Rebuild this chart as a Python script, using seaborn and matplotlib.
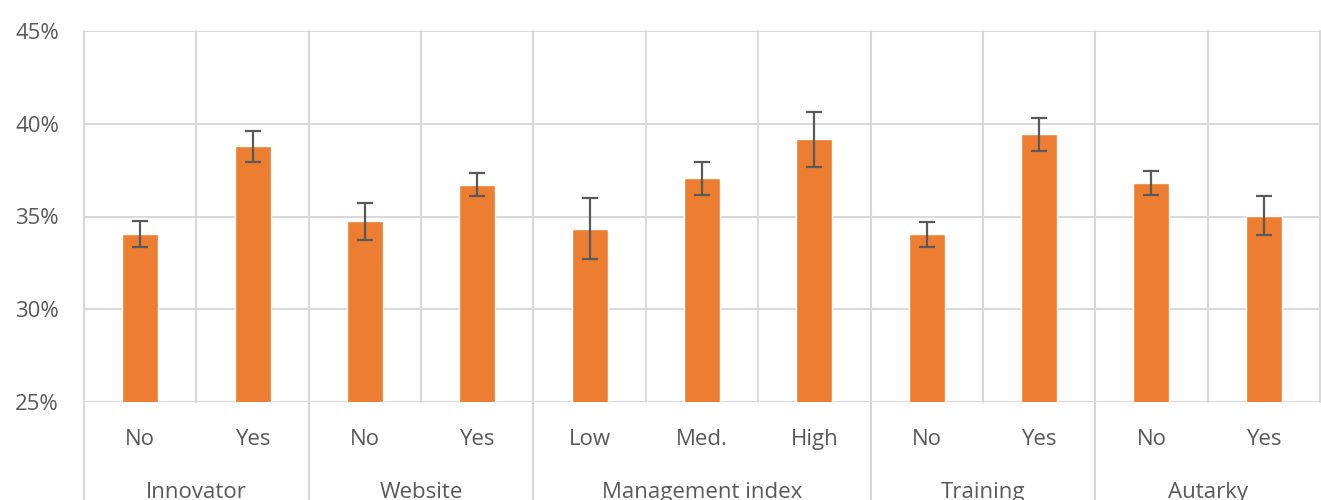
import matplotlib
matplotlib.use("Agg")
import matplotlib.pyplot as plt
import matplotlib.transforms as mtransforms
from matplotlib.ticker import PercentFormatter
import pandas as pd
import seaborn as sns

# data
groups = ["Innovator", "Innovator", "Website", "Website",
          "Management index", "Management index", "Management index",
          "Training", "Training", "Autarky", "Autarky"]
levels = ["No", "Yes", "No", "Yes", "Low", "Med.", "High", "No", "Yes", "No", "Yes"]
shares = [0.3405, 0.3878, 0.3474, 0.3672, 0.3435, 0.3706, 0.3916, 0.3404, 0.3943, 0.3681, 0.3505]
errors = [0.0072, 0.0083, 0.0100, 0.0063, 0.0165, 0.0089, 0.0148, 0.0068, 0.0089, 0.0063, 0.0103]

BAR = "#ED7D31"
GRID = "#D9D9D9"
TEXT = "#595959"

sns.set_theme(style="white")
plt.rcParams["font.family"] = ["Open Sans", "DejaVu Sans"]

df = pd.DataFrame({
    "key": [f"{g}|{l}" for g, l in zip(groups, levels)],
    "group": groups,
    "level": levels,
    "share": shares,
})

fig = plt.figure(figsize=(13.21, 5), dpi=100)
ax = fig.add_axes([84 / 1321, 98 / 500, 1236 / 1321, 371 / 500])

sns.barplot(data=df, x="key", y="share", color=BAR, width=0.32,
            saturation=1, ax=ax, zorder=3)
ax.errorbar(range(len(df)), df["share"], yerr=errors, fmt="none",
            ecolor=TEXT, elinewidth=1.6, capsize=5.5, capthick=1.6, zorder=4)

ax.set_ylim(0.25, 0.45)
ax.set_xlim(-0.5, len(df) - 0.5)
ax.set_yticks([0.25, 0.30, 0.35, 0.40, 0.45])
ax.yaxis.set_major_formatter(PercentFormatter(1.0, decimals=0))
ax.tick_params(axis="y", length=0, pad=18, labelsize=16, labelcolor=TEXT)
ax.set_xticks([])
ax.set_xlabel("")
ax.set_ylabel("")
for s in ax.spines.values():
    s.set_visible(False)

# horizontal gridlines
for v in [0.25, 0.30, 0.35, 0.40, 0.45]:
    ax.axhline(v, color=GRID, lw=1.5, zorder=1)

# vertical separators between categories
trans = mtransforms.blended_transform_factory(ax.transData, ax.transAxes)
bounds = [i - 0.5 for i in range(len(df) + 1)]
group_edges = {-0.5}
for i in range(1, len(groups)):
    if groups[i] != groups[i - 1]:
        group_edges.add(i - 0.5)
for b in bounds:
    low = -0.27 if b in group_edges else 0
    ax.plot([b, b], [low, 1], color=GRID, lw=1.5, transform=trans,
            clip_on=False, zorder=1)

# two-level category labels
for i, lev in enumerate(levels):
    ax.text(i, -0.1, lev, transform=trans, ha="center", va="center",
            fontsize=16, color=TEXT)
seen = []
for g in groups:
    if g not in seen:
        seen.append(g)
for g in seen:
    idx = [i for i, x in enumerate(groups) if x == g]
    mid = (idx[0] + idx[-1]) / 2
    ax.text(mid, -0.245, g, transform=trans, ha="center", va="center",
            fontsize=16, color=TEXT)

fig.savefig("out.png", dpi=100)
plt.close(fig)
